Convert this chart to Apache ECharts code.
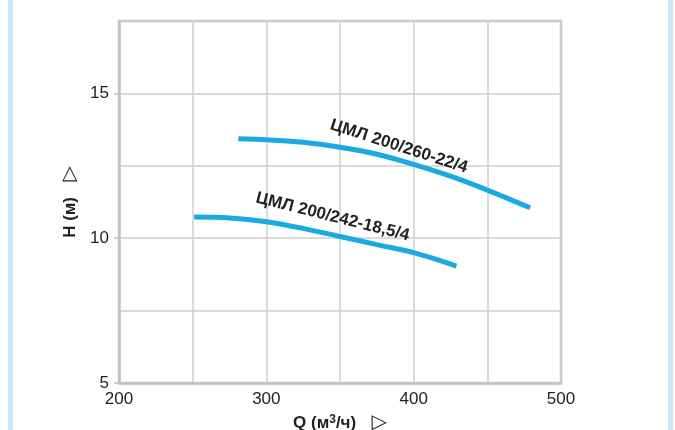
<!DOCTYPE html>
<html>
<head>
<meta charset="utf-8">
<script src="https://cdn.jsdelivr.net/npm/echarts@6/dist/echarts.min.js"></script>
<style>
html,body{margin:0;padding:0;background:#fff;}
#wrap{position:relative;width:675px;height:430px;overflow:hidden;background:#fff;}
.strip{position:absolute;top:0;width:5px;height:430px;background:#c8e9fa;}
#c{position:absolute;left:0;top:0;width:675px;height:430px;}
</style>
</head>
<body>
<div id="wrap">
<div class="strip" style="left:8px"></div>
<div class="strip" style="left:668px"></div>
<div id="c"></div>
</div>
<script>
// Data
var seriesNames = ['ЦМЛ 200/260-22/4', 'ЦМЛ 200/242-18,5/4'];
var upperQ = [281, 300, 325, 350, 375, 400, 425, 450, 479];
var upperH = [13.43, 13.40, 13.31, 13.14, 12.90, 12.55, 12.14, 11.66, 11.05];
var lowerQ = [251, 275, 300, 325, 350, 375, 400, 429];
var lowerH = [10.73, 10.70, 10.57, 10.34, 10.06, 9.78, 9.50, 9.04];
var yLabelValues = [5, 10, 15];
var xLabelValues = [200, 300, 400, 500];
// label anchor positions in data units (Q, H)
var labelAnchors = [[390, 13.17], [345, 10.74]];

function pairs(xs, ys) { return xs.map(function (x, i) { return [x, ys[i]]; }); }

var chart = echarts.init(document.getElementById('c'), null, {renderer: 'canvas'});
var font = '"Liberation Sans", Arial, "DejaVu Sans", sans-serif';
var nameRich = {
  t: {fontFamily: 'DejaVu Sans', fontWeight: 'bold', fontSize: 20, color: '#222', padding: [0, 0, 0, 6]},
  sup: {fontFamily: font, fontWeight: 'bold', fontSize: 12, color: '#222', padding: [0, 0, 7, 0]}
};
var option = {
  animation: false,
  backgroundColor: 'transparent',
  grid: {left: 119, right: 114, top: 21, bottom: 47, containLabel: false, outerBoundsMode: 'none',
         show: true, borderColor: '#c3c3c7', borderWidth: 2.5, backgroundColor: 'transparent'},
  xAxis: {
    type: 'value', min: 200, max: 500, interval: 50,
    name: 'Q (м{sup|3}/ч)  {t|▷}', nameLocation: 'middle', nameGap: 28,
    nameTextStyle: {fontFamily: font, fontWeight: 'bold', fontSize: 17, color: '#222', rich: nameRich},
    axisLine: {show: true, lineStyle: {color: '#c3c3c7', width: 2.5}},
    axisTick: {show: false},
    splitLine: {show: true, lineStyle: {color: '#cfcfd2', width: 1.5}},
    axisLabel: {
      fontFamily: font, fontSize: 17, color: '#222', margin: 8,
      formatter: function (v) { return xLabelValues.indexOf(v) >= 0 ? String(v) : ''; }
    }
  },
  yAxis: [{
    type: 'value', min: 5, max: 17.5, interval: 2.5,
    name: 'H (м)  {t|▷}', nameLocation: 'middle', nameGap: 39, nameRotate: 90, nameMoveOverlap: false,
    nameTextStyle: {fontFamily: font, fontWeight: 'bold', fontSize: 17, color: '#222', rich: nameRich},
    axisLine: {show: true, lineStyle: {color: '#c3c3c7', width: 2.5}},
    axisTick: {show: false},
    splitLine: {show: true, lineStyle: {color: '#cfcfd2', width: 1.5}},
    axisLabel: {
      fontFamily: font, fontSize: 17, color: '#222', margin: 10,
      formatter: function (v) { return yLabelValues.indexOf(v) >= 0 ? String(v) : ''; }
    }
  }, {
    type: 'value', min: 5, max: 17.5, interval: 5, position: 'left', offset: 0,
    axisLine: {show: false}, axisLabel: {show: false}, splitLine: {show: false},
    axisTick: {show: true, length: 5, customValues: yLabelValues, lineStyle: {color: '#c3c3c7', width: 1.5}}
  }],
  series: [
    {type: 'line', name: seriesNames[0], data: pairs(upperQ, upperH), smooth: 0.3, showSymbol: false,
     lineStyle: {color: '#1aa9e1', width: 5, cap: 'butt'}},
    {type: 'line', name: seriesNames[1], data: pairs(lowerQ, lowerH), smooth: 0.3, showSymbol: false,
     lineStyle: {color: '#1aa9e1', width: 5, cap: 'butt'}}
  ]
};
chart.setOption(option);

var rots = [-0.31, -0.245];
var graphics = labelAnchors.map(function (a, i) {
  var p = chart.convertToPixel({gridIndex: 0}, a);
  return {
    type: 'text', x: p[0], y: p[1], rotation: rots[i], z: 100,
    style: {text: seriesNames[i], fontFamily: '"Liberation Sans Narrow", "Liberation Sans", Arial, sans-serif', fontWeight: 'bold', fontSize: 17,
            fill: '#222', align: 'center', verticalAlign: 'middle'}
  };
});
chart.setOption({graphic: graphics});
</script>
</body>
</html>
